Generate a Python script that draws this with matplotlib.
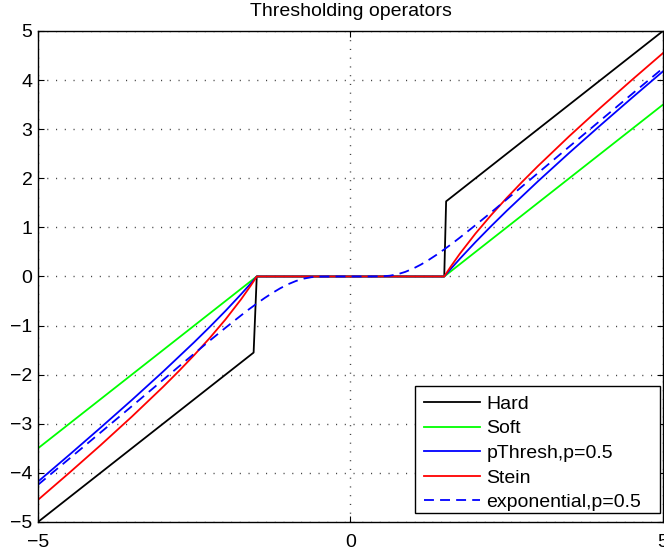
import matplotlib
matplotlib.use("Agg")
import matplotlib.pyplot as plt
from matplotlib.patches import Rectangle

plt.rcParams["font.family"] = ["Liberation Sans", "DejaVu Sans"]
plt.rcParams["font.size"] = 14

# Hard thresholding (T = 1.5)
hard_x = [-5, -1.55, -1.5, 1.5, 1.53, 5]
hard_y = [-5, -1.55, 0, 0, 1.53, 5]

# Soft thresholding
soft_x = [-5, -1.5, 1.5, 5]
soft_y = [-3.5, 0, 0, 3.5]

# p-thresholding, p = 0.5
pth_x = [-5, -4.5, -4, -3.5, -3, -2.5, -2.25, -2, -1.75, -1.6, -1.55, -1.5,
         1.5, 1.55, 1.6, 1.75, 2, 2.25, 2.5, 3, 3.5, 4, 4.5, 5]
pth_y = [-4.178, -3.634, -3.081, -2.518, -1.939, -1.338, -1.025, -0.701, -0.361, -0.148, -0.074, 0,
         0, 0.074, 0.148, 0.361, 0.701, 1.025, 1.338, 1.939, 2.518, 3.081, 3.634, 4.178]

# Stein thresholding
stein_x = [-5, -4.5, -4, -3.5, -3, -2.75, -2.5, -2.25, -2, -1.75, -1.6, -1.55, -1.5,
           1.5, 1.55, 1.6, 1.75, 2, 2.25, 2.5, 2.75, 3, 3.5, 4, 4.5, 5]
stein_y = [-4.55, -4.0, -3.438, -2.857, -2.25, -1.932, -1.6, -1.25, -0.875, -0.464, -0.194, -0.098, 0,
           0, 0.098, 0.194, 0.464, 0.875, 1.25, 1.6, 1.932, 2.25, 2.857, 3.438, 4.0, 4.55]

# Exponential thresholding, p = 0.5
exp_x = [-5, -4.5, -4, -3.5, -3, -2.75, -2.5, -2.25, -2, -1.75, -1.625, -1.5, -1.375,
         -1.25, -1.125, -1, -0.875, -0.75, -0.625, -0.5, -0.25, 0,
         0.25, 0.5, 0.625, 0.75, 0.875, 1, 1.125, 1.25, 1.375, 1.5, 1.625, 1.75,
         2, 2.25, 2.5, 2.75, 3, 3.5, 4, 4.5, 5]
exp_y = [-4.243, -3.712, -3.179, -2.644, -2.107, -1.838, -1.571, -1.305, -1.045, -0.792, -0.669, -0.552, -0.440,
         -0.336, -0.241, -0.159, -0.093, -0.044, -0.015, -0.003, 0, 0,
         0, 0.003, 0.015, 0.044, 0.093, 0.159, 0.241, 0.336, 0.440, 0.552, 0.669, 0.792,
         1.045, 1.305, 1.571, 1.838, 2.107, 2.644, 3.179, 3.712, 4.243]

x_ticks = [-5, 0, 5]
y_ticks = [-5, -4, -3, -2, -1, 0, 1, 2, 3, 4, 5]

fig = plt.figure(figsize=(6.64, 5.55), dpi=100)
ax = fig.add_axes([0.0572, 0.0595, 0.9413, 0.8847])

lw = 1.3
ax.plot(hard_x, hard_y, color="black", lw=lw, label="Hard")
ax.plot(soft_x, soft_y, color="#00ff00", lw=lw, label="Soft")
ax.plot(pth_x, pth_y, color="blue", lw=lw, label="pThresh,p=0.5")
ax.plot(stein_x, stein_y, color="red", lw=lw, label="Stein")
ax.plot(exp_x, exp_y, color="blue", lw=lw, dashes=(5.5, 3.4), label="exponential,p=0.5")

ax.set_xlim(-5, 5)
ax.set_ylim(-5, 5)
ax.set_xticks(x_ticks)
ax.set_yticks(y_ticks)
ax.grid(True, color="#444444", linestyle=(0, (0.8, 5.5)), linewidth=1.0)
ax.tick_params(direction="in", length=4, width=0.8, top=True, right=True, labelsize=14)
ax.tick_params(axis="x", pad=9)
ax.tick_params(axis="y", pad=4)
for s in ax.spines.values():
    s.set_linewidth(1.0)

ax.set_title("Thresholding operators", fontsize=14, pad=10.5)

# legend box drawn as a plain rectangle, entries placed on top of it
box = Rectangle((0.6032, 0.018), 0.392, 0.2587, transform=ax.transAxes,
                facecolor="white", edgecolor="black", linewidth=1.0, zorder=4.5)
ax.add_patch(box)
leg = ax.legend(loc="lower left", bbox_to_anchor=(0.6032, 0.004, 0.392, 0.1),
                mode="expand", borderaxespad=0, frameon=False, fontsize=14,
                handlelength=2.9, handletextpad=0.33, labelspacing=0.36, borderpad=0.45)
leg.set_zorder(5)

fig.savefig("out.png", dpi=100)
